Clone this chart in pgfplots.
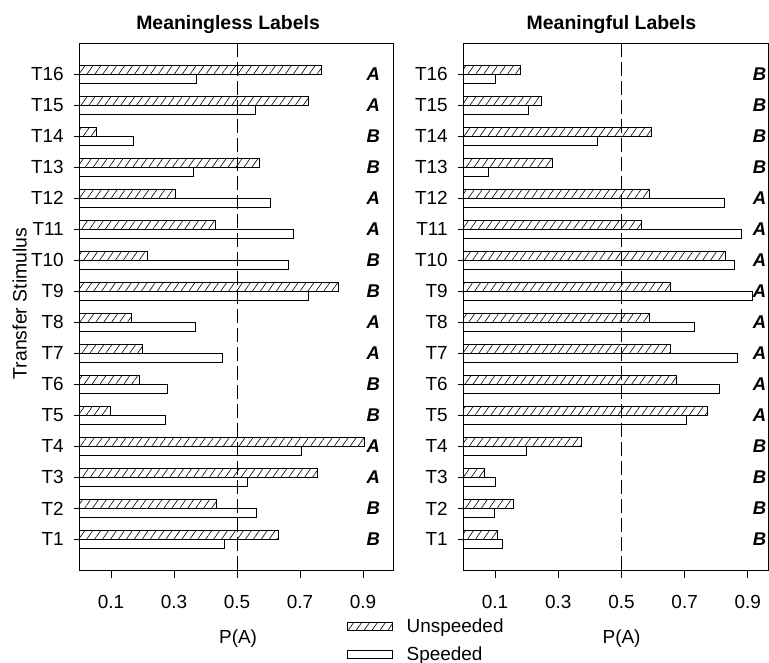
\documentclass[border=0pt]{standalone}
\usepackage{pgfplots}
\pgfplotsset{compat=1.18}
\usepackage{pgfplotstable}
\usetikzlibrary{patterns.meta}
\usepackage{fontspec}
\setmainfont{Liberation Sans}

\pgfplotstableread{
y unsp sp
1 0.632 0.461
2 0.433 0.560
3 0.756 0.533
4 0.905 0.705
5 0.098 0.273
6 0.190 0.278
7 0.198 0.452
8 0.165 0.369
9 0.822 0.727
10 0.214 0.663
11 0.430 0.678
12 0.305 0.606
13 0.571 0.360
14 0.054 0.170
15 0.728 0.559
16 0.769 0.372
}\lefttab

\pgfplotstableread{
y unsp sp
1 0.108 0.123
2 0.158 0.097
3 0.066 0.102
4 0.373 0.198
5 0.771 0.706
6 0.673 0.810
7 0.655 0.867
8 0.589 0.732
9 0.655 0.914
10 0.829 0.858
11 0.563 0.879
12 0.589 0.825
13 0.280 0.079
14 0.596 0.424
15 0.247 0.207
16 0.179 0.102
}\righttab

\tikzset{hatch/.style={pattern={Lines[angle=55,distance=6.5bp,line width=0.6bp]}}}
\newcommand{\tickfont}{\fontsize{19}{21}\selectfont}
\newcommand{\letfont}{\fontsize{18.5}{20}\selectfont\bfseries\itshape}

\pgfplotsset{panel/.style={
  scale only axis, height=527.5bp, ymin=0, ymax=17, xmin=0,
  anchor=south west, clip=false,
  axis line style={line width=0.8bp},
  tick pos=left, tick align=outside,
  ytick={1,...,16},
  yticklabels={T1,T2,T3,T4,T5,T6,T7,T8,T9,T10,T11,T12,T13,T14,T15,T16},
  xtick={0.1,0.3,0.5,0.7,0.9},
  xticklabels={0.1,0.3,0.5,0.7,0.9},
  tick style={line width=0.8bp, black},
  xtick style={/pgfplots/major tick length=7bp},
  ytick style={/pgfplots/major tick length=5bp},
  tick label style={font=\tickfont},
  yticklabel style={xshift=-8bp},
  xticklabel style={anchor=base, yshift=-34bp},
}}

\begin{document}
\begin{tikzpicture}
\begin{axis}[panel, at={(79.5bp,92.5bp)}, width=313.4bp, xmax=0.995,
  legend style={at={(0.853,-0.088)}, anchor=north west, draw=none, fill=none,
    inner sep=0pt, font=\fontsize{19}{21}\selectfont, row sep=8bp,
    /tikz/every odd column/.append style={column sep=12bp}},
  legend cell align=left]
\addplot[xbar, forget plot, bar width=0.29, bar shift=0.145, draw=black, line width=0.7bp, hatch] table[x=unsp, y=y] {\lefttab};
\addplot[xbar, forget plot, bar width=0.29, bar shift=-0.145, draw=black, fill=white, line width=0.7bp] table[x=sp, y=y] {\lefttab};
\addplot[forget plot, black, line width=0.7bp, dash pattern=on 14bp off 5bp] coordinates {(0.5,0) (0.5,17)};
\addlegendimage{legend image code/.code={\draw[black, line width=0.7bp, hatch] (0bp,-4bp) rectangle (45bp,4bp);}}
\addlegendentry{Unspeeded}
\addlegendimage{legend image code/.code={\draw[black, line width=0.7bp, fill=white] (0bp,-4bp) rectangle (45bp,4bp);}}
\addlegendentry{Speeded}
\node[font=\letfont] at (axis cs:0.933,16) {A};
\node[font=\letfont] at (axis cs:0.933,15) {A};
\node[font=\letfont] at (axis cs:0.933,14) {B};
\node[font=\letfont] at (axis cs:0.933,13) {B};
\node[font=\letfont] at (axis cs:0.933,12) {A};
\node[font=\letfont] at (axis cs:0.933,11) {A};
\node[font=\letfont] at (axis cs:0.933,10) {B};
\node[font=\letfont] at (axis cs:0.933,9) {B};
\node[font=\letfont] at (axis cs:0.933,8) {A};
\node[font=\letfont] at (axis cs:0.933,7) {A};
\node[font=\letfont] at (axis cs:0.933,6) {B};
\node[font=\letfont] at (axis cs:0.933,5) {B};
\node[font=\letfont] at (axis cs:0.933,4) {A};
\node[font=\letfont] at (axis cs:0.933,3) {A};
\node[font=\letfont] at (axis cs:0.933,2) {B};
\node[font=\letfont] at (axis cs:0.933,1) {B};
\node[anchor=base, font=\bfseries\fontsize{19.5}{21}\selectfont] at (rel axis cs:0.474,1) [yshift=13bp] {Meaningless Labels};
\node[anchor=base, font=\fontsize{19}{21}\selectfont] at (rel axis cs:0.506,0) [yshift=-72.5bp] {P(A)};
\end{axis}

\begin{axis}[panel, at={(463.4bp,92.5bp)}, width=305.3bp, xmax=0.966]
\addplot[xbar, forget plot, bar width=0.29, bar shift=0.145, draw=black, line width=0.7bp, hatch] table[x=unsp, y=y] {\righttab};
\addplot[xbar, forget plot, bar width=0.29, bar shift=-0.145, draw=black, fill=white, line width=0.7bp] table[x=sp, y=y] {\righttab};
\addplot[forget plot, black, line width=0.7bp, dash pattern=on 14bp off 5bp] coordinates {(0.5,0) (0.5,17)};
\node[font=\letfont] at (axis cs:0.937,16) {B};
\node[font=\letfont] at (axis cs:0.937,15) {B};
\node[font=\letfont] at (axis cs:0.937,14) {B};
\node[font=\letfont] at (axis cs:0.937,13) {B};
\node[font=\letfont] at (axis cs:0.937,12) {A};
\node[font=\letfont] at (axis cs:0.937,11) {A};
\node[font=\letfont] at (axis cs:0.937,10) {A};
\node[font=\letfont] at (axis cs:0.937,9) {A};
\node[font=\letfont] at (axis cs:0.937,8) {A};
\node[font=\letfont] at (axis cs:0.937,7) {A};
\node[font=\letfont] at (axis cs:0.937,6) {A};
\node[font=\letfont] at (axis cs:0.937,5) {A};
\node[font=\letfont] at (axis cs:0.937,4) {B};
\node[font=\letfont] at (axis cs:0.937,3) {B};
\node[font=\letfont] at (axis cs:0.937,2) {B};
\node[font=\letfont] at (axis cs:0.937,1) {B};
\node[anchor=base, font=\bfseries\fontsize{19.5}{21}\selectfont] at (rel axis cs:0.485,1) [yshift=13bp] {Meaningful Labels};
\node[anchor=base, font=\fontsize{19}{21}\selectfont] at (rel axis cs:0.518,0) [yshift=-72.5bp] {P(A)};
\end{axis}

\node[anchor=base, rotate=90, font=\fontsize{19.5}{21}\selectfont] at (26.7bp,359.5bp) {Transfer Stimulus};
\pgfresetboundingbox
\path[use as bounding box] (0bp,0bp) rectangle (769bp,663bp);
\end{tikzpicture}
\end{document}
